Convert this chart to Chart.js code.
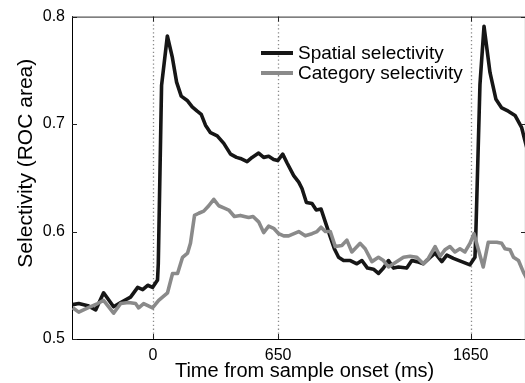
<!DOCTYPE html>
<html><head><meta charset="utf-8">
<script src="https://cdn.jsdelivr.net/npm/chart.js@4.4.1/dist/chart.umd.min.js"></script>
<style>html,body{margin:0;padding:0;background:#fff;overflow:hidden;}#wrap{width:527px;height:383px;position:relative;}</style>
</head><body><div id="wrap"><canvas id="c"></canvas></div>
<script>
const spatialTime = [-416,-385,-338,-297,-256,-204,-167,-116,-79,-53,-27,-2,24,28,45,75,101,123,147,178,204,230,251,273,299,334,368,403,434,454,489,515,549,575,601,627,648,674,696,731,757,774,797,826,848,873,895,921,942,964,990,1025,1059,1085,1114,1145,1171,1197,1223,1249,1275,1318,1344,1370,1404,1439,1465,1500,1526,1560,1603,1646,1672,1677,1698,1719,1750,1781,1811,1845,1880,1914,1931,1950];
const spatialValue = [0.532,0.533,0.531,0.527,0.543,0.530,0.534,0.539,0.548,0.546,0.550,0.548,0.555,0.570,0.736,0.782,0.762,0.739,0.726,0.722,0.716,0.712,0.709,0.699,0.692,0.689,0.682,0.672,0.669,0.668,0.665,0.669,0.673,0.669,0.670,0.667,0.666,0.672,0.664,0.652,0.646,0.640,0.627,0.626,0.620,0.621,0.609,0.595,0.584,0.576,0.573,0.573,0.570,0.573,0.566,0.565,0.561,0.566,0.573,0.566,0.567,0.566,0.573,0.572,0.570,0.576,0.580,0.572,0.578,0.575,0.572,0.569,0.576,0.601,0.737,0.791,0.748,0.723,0.715,0.712,0.708,0.697,0.685,0.672];
const categoryTime = [-416,-385,-338,-287,-256,-204,-167,-126,-90,-74,-48,-2,30,76,102,128,154,180,195,216,238,264,290,316,342,368,394,423,454,475,497,520,549,575,601,627,653,679,705,757,791,826,852,873,895,921,947,981,1007,1033,1076,1102,1137,1171,1197,1223,1249,1275,1301,1335,1370,1404,1430,1465,1491,1516,1542,1568,1594,1620,1646,1667,1690,1715,1741,1785,1811,1828,1854,1872,1898,1924,1945];
const categoryValue = [0.529,0.525,0.529,0.533,0.536,0.524,0.533,0.534,0.533,0.529,0.533,0.529,0.536,0.543,0.561,0.561,0.576,0.580,0.589,0.615,0.617,0.619,0.624,0.630,0.624,0.622,0.620,0.614,0.615,0.614,0.613,0.614,0.609,0.599,0.605,0.603,0.598,0.596,0.596,0.600,0.596,0.598,0.600,0.604,0.600,0.600,0.586,0.587,0.592,0.581,0.589,0.584,0.572,0.576,0.573,0.567,0.570,0.573,0.576,0.577,0.576,0.570,0.575,0.586,0.577,0.583,0.586,0.581,0.584,0.581,0.589,0.598,0.583,0.567,0.590,0.590,0.589,0.584,0.583,0.576,0.573,0.562,0.555];
const eventTicks = [0, 650, 1650];
const yTicks = [0.5, 0.6, 0.7, 0.8];
const seriesLabels = ['Spatial selectivity', 'Category selectivity'];
const xTitle = 'Time from sample onset (ms)';
const yTitle = 'Selectivity (ROC area)';

const FONT = '"Liberation Sans", Arial, sans-serif';
const toPts = (t, v) => t.map((x, i) => ({x: x, y: v[i]}));

const framePlugin = {
  id: 'frame',
  beforeDatasetsDraw(chart) {
    const {ctx, chartArea: a, scales: {x}} = chart;
    ctx.save();
    ctx.strokeStyle = '#8a8a8a';
    ctx.lineWidth = 1.3;
    ctx.setLineDash([1.3, 2.6]);
    eventTicks.forEach(t => {
      const px = Math.round(x.getPixelForValue(t)) + 0.5;
      ctx.beginPath(); ctx.moveTo(px, a.top); ctx.lineTo(px, a.bottom); ctx.stroke();
    });
    ctx.restore();
  },
  afterDatasetsDraw(chart) {
    const {ctx, chartArea: a, scales: {x, y}} = chart;
    ctx.save();
    ctx.strokeStyle = '#555';
    ctx.lineWidth = 1.2;
    ctx.beginPath(); ctx.moveTo(a.left, a.top + 0.5); ctx.lineTo(a.right, a.top + 0.5); ctx.stroke();
    ctx.beginPath(); ctx.moveTo(a.right - 0.5, a.top); ctx.lineTo(a.right - 0.5, a.bottom); ctx.stroke();
    ctx.strokeStyle = '#222';
    ctx.lineWidth = 1;
    const L = 5;
    eventTicks.forEach(t => {
      const px = Math.round(x.getPixelForValue(t)) + 0.5;
      ctx.beginPath(); ctx.moveTo(px, a.bottom); ctx.lineTo(px, a.bottom - L); ctx.stroke();
      ctx.beginPath(); ctx.moveTo(px, a.top); ctx.lineTo(px, a.top + L); ctx.stroke();
    });
    yTicks.forEach(v => {
      const py = Math.round(y.getPixelForValue(v)) + 0.5;
      ctx.beginPath(); ctx.moveTo(a.left, py); ctx.lineTo(a.left + L, py); ctx.stroke();
      ctx.beginPath(); ctx.moveTo(a.right, py); ctx.lineTo(a.right - L, py); ctx.stroke();
    });
    const ds = chart.data.datasets;
    const lx0 = 261, lx1 = 293, ly = [53, 73];
    ctx.font = '19px ' + FONT;
    ctx.textBaseline = 'middle';
    ctx.textAlign = 'left';
    ds.forEach((d, i) => {
      ctx.strokeStyle = d.borderColor;
      ctx.lineWidth = 4;
      ctx.beginPath(); ctx.moveTo(lx0, ly[i]); ctx.lineTo(lx1, ly[i]); ctx.stroke();
      ctx.fillStyle = '#000';
      ctx.fillText(d.label, 298, ly[i] + 1);
    });
    ctx.restore();
  }
};

new Chart(document.getElementById('c'), {
  type: 'line',
  data: {
    datasets: [
      {label: seriesLabels[0], data: toPts(spatialTime, spatialValue), borderColor: '#161616', borderWidth: 3.6, order: 1},
      {label: seriesLabels[1], data: toPts(categoryTime, categoryValue), borderColor: '#8a8a8a', borderWidth: 3.6, order: 0}
    ]
  },
  options: {
    responsive: true,
    maintainAspectRatio: false,
    animation: false,
    layout: {padding: {left: 0, right: 1, top: 15, bottom: 0}},
    elements: {point: {radius: 0}, line: {tension: 0, borderJoinStyle: 'round', borderCapStyle: 'butt'}},
    plugins: {legend: {display: false}, tooltip: {enabled: false}},
    scales: {
      x: {
        type: 'linear', min: -420, max: 1937,
        afterBuildTicks: s => { s.ticks = eventTicks.map(v => ({value: v})); },
        afterFit: s => { s.height = 44; },
        grid: {display: false, drawTicks: false},
        border: {display: true, color: '#000', width: 1},
        ticks: {color: '#000', font: {family: FONT, size: 16}, padding: 7, maxRotation: 0, autoSkip: false, callback: v => String(v)},
        title: {display: true, text: '  ' + xTitle, color: '#000', font: {family: FONT, size: 20}, padding: {top: 0, bottom: 0}}
      },
      y: {
        min: 0.5, max: 0.8,
        afterBuildTicks: s => { s.ticks = yTicks.map(v => ({value: v})); },
        afterFit: s => { s.width = 72; },
        grid: {display: false, drawTicks: false},
        border: {display: true, color: '#000', width: 1},
        ticks: {color: '#000', font: {family: FONT, size: 16}, padding: 7, callback: v => Number(v).toFixed(1)},
        title: {display: true, text: '     ' + yTitle, color: '#000', font: {family: FONT, size: 21}, padding: {top: 14, bottom: 0}}
      }
    }
  },
  plugins: [framePlugin]
});
</script></body></html>
